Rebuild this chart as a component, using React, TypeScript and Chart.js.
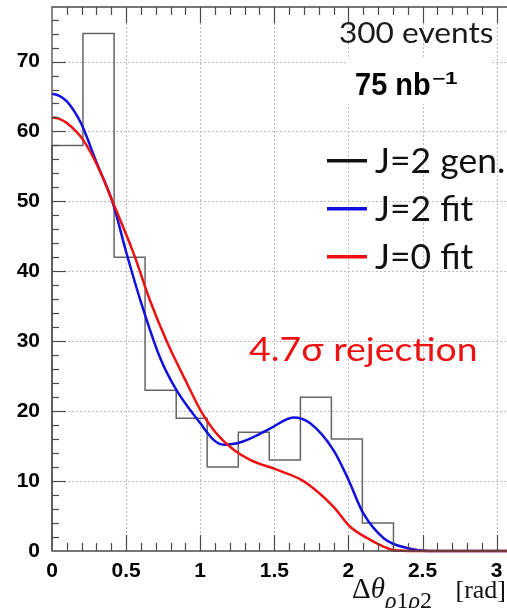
import { useEffect, useRef } from 'react';
import { Chart, registerables } from 'chart.js';
Chart.register(...registerables);

// Histogram: generated J=2 events per bin (bin edges in rad)
const binEdges = [0, 0.209, 0.419, 0.628, 0.838, 1.047, 1.257, 1.466, 1.676, 1.885, 2.094, 2.304, 2.513, 2.723, 2.932, 3.142];
const genCounts = [58, 74, 42, 23, 19, 12, 17, 13, 22, 16, 4, 0, 0, 0, 0];

// J=2 fit curve
const j2FitX = [0, 0.05, 0.1, 0.15, 0.2, 0.3, 0.41, 0.5, 0.6, 0.73, 0.84, 1.0, 1.09, 1.16, 1.25, 1.34, 1.47, 1.63, 1.74, 1.9, 2.0, 2.1, 2.24, 2.4, 2.55, 3.07];
const j2FitY = [65.4, 65.1, 64.3, 62.9, 61.0, 55.6, 49.8, 42.8, 35.6, 27.6, 23.0, 18.3, 15.9, 15.2, 15.4, 16.1, 17.5, 19.1, 18.3, 14.4, 10.2, 5.4, 1.8, 0.4, 0, 0];

// J=0 fit curve
const j0FitX = [0, 0.05, 0.1, 0.21, 0.32, 0.41, 0.55, 0.66, 0.78, 0.91, 1.0, 1.11, 1.23, 1.34, 1.52, 1.68, 1.79, 1.9, 2.01, 2.13, 2.24, 2.31, 2.45, 3.07];
const j0FitY = [62.0, 61.8, 61.2, 58.8, 54.5, 49.9, 42.6, 35.9, 29.7, 24.0, 20.2, 16.8, 14.4, 13.0, 11.6, 10.2, 8.5, 6.3, 3.5, 1.8, 0.6, 0.1, 0, 0];

const xTickValues = [0, 0.5, 1, 1.5, 2, 2.5, 3];
const xTickLabels = ['0', '0.5', '1', '1.5', '2', '2.5', '3'];
const yTickValues = [0, 10, 20, 30, 40, 50, 60, 70];
const yTickLabels = ['0', '10', '20', '30', '40', '50', '60', '70'];

const legendLabels = ['J=2 gen.', 'J=2 fit', 'J=0 fit'];
const legendColors = ['#111111', '#1010e0', '#ee1111'];

const X_MAX = 3.07;
const Y_MAX = 77.8;

function drawFit(
  ctx: CanvasRenderingContext2D,
  text: string,
  weight: string,
  family: string,
  left: number,
  baseline: number,
  cap: number,
  width: number | null,
  color: string,
  scaleOverride?: number
) {
  ctx.save();
  ctx.font = `${weight} 100px ${family}`;
  const capRatio = ctx.measureText('H').actualBoundingBoxAscent / 100;
  const size = cap / capRatio;
  ctx.font = `${weight} ${size}px ${family}`;
  const m = ctx.measureText(text);
  const inkW = m.actualBoundingBoxLeft + m.actualBoundingBoxRight;
  const sx = scaleOverride ?? (width ? width / inkW : 1);
  ctx.translate(left, baseline);
  ctx.scale(sx, 1);
  ctx.fillStyle = color;
  ctx.textAlign = 'left';
  ctx.textBaseline = 'alphabetic';
  ctx.fillText(text, m.actualBoundingBoxLeft, 0);
  ctx.restore();
  return sx;
}

const decorPlugin = {
  id: 'decor',
  beforeDatasetsDraw(chart: any) {
    const { ctx, chartArea: a, scales } = chart;
    const x = scales.x;
    const y = scales.y;
    ctx.save();
    ctx.strokeStyle = '#bdbdbd';
    ctx.lineWidth = 1;
    ctx.setLineDash([2, 2]);
    for (const v of xTickValues) {
      if (v === 0) continue;
      const px = Math.round(x.getPixelForValue(v)) + 0.5;
      ctx.beginPath();
      ctx.moveTo(px, a.top);
      ctx.lineTo(px, a.bottom);
      ctx.stroke();
    }
    for (const v of yTickValues) {
      if (v === 0) continue;
      const py = Math.round(y.getPixelForValue(v)) + 0.5;
      ctx.beginPath();
      ctx.moveTo(a.left, py);
      ctx.lineTo(a.right, py);
      ctx.stroke();
    }
    ctx.restore();
  },
  afterDatasetsDraw(chart: any) {
    const { ctx, chartArea: a, scales } = chart;
    const x = scales.x;
    const y = scales.y;
    ctx.save();
    // frame
    ctx.strokeStyle = '#4a4a4a';
    ctx.lineWidth = 1.3;
    ctx.beginPath();
    ctx.moveTo(a.right + 2, a.top);
    ctx.lineTo(a.left, a.top);
    ctx.lineTo(a.left, a.bottom);
    ctx.lineTo(a.right + 2, a.bottom);
    ctx.stroke();
    // x ticks (bottom & top)
    ctx.lineWidth = 1.2;
    for (let i = 1; i <= 30; i++) {
      const v = i / 10;
      const px = Math.round(x.getPixelForValue(v)) + 0.5;
      const major = i % 5 === 0;
      const len = major ? 16 : 8;
      ctx.beginPath();
      ctx.moveTo(px, a.bottom);
      ctx.lineTo(px, a.bottom - len);
      ctx.moveTo(px, a.top);
      ctx.lineTo(px, a.top + len);
      ctx.stroke();
    }
    // y ticks (left)
    for (let i = 1; i <= 38; i++) {
      const v = i * 2;
      if (v > Y_MAX) break;
      const py = Math.round(y.getPixelForValue(v)) + 0.5;
      const major = v % 10 === 0;
      const len = major ? 14 : 7;
      ctx.beginPath();
      ctx.moveTo(a.left, py);
      ctx.lineTo(a.left + len, py);
      ctx.stroke();
    }
    ctx.restore();

    // "300 events"
    drawFit(ctx, '300 events', 'normal', 'Lato', 340, 42.5, 21, 153, '#1a1a1a');

    // white box with luminosity
    ctx.save();
    ctx.fillStyle = '#ffffff';
    ctx.fillRect(346, 58, 146, 46);
    ctx.restore();
    drawFit(ctx, '75 nb', 'bold', '"Liberation Sans"', 356, 95, 22.5, 74, '#000000');
    drawFit(ctx, '\u22121', 'bold', '"Liberation Sans"', 432, 84, 11, 26, '#000000');

    // legend
    const rowY = [160.7, 208.8, 256.7];
    ctx.save();
    rowY.forEach((ly, i) => {
      ctx.strokeStyle = legendColors[i];
      ctx.lineWidth = 3.5;
      ctx.beginPath();
      ctx.moveTo(327, ly);
      ctx.lineTo(367, ly);
      ctx.stroke();
    });
    ctx.restore();
    const sx = drawFit(ctx, legendLabels[1], 'normal', 'Lato', 375, rowY[1] + 12.5, 25, 98, '#111111');
    drawFit(ctx, legendLabels[0], 'normal', 'Lato', 375, rowY[0] + 12.5, 25, null, '#111111', sx);
    drawFit(ctx, legendLabels[2], 'normal', 'Lato', 375, rowY[2] + 12.5, 25, null, '#111111', sx);

    // annotation
    drawFit(ctx, '4.7\u03c3 rejection', 'normal', 'Lato', 249, 361, 24, 227, '#ee1111');

    // x-axis title: Δθ_{ρ1ρ2} [rad]
    ctx.save();
    ctx.fillStyle = '#111111';
    ctx.textBaseline = 'alphabetic';
    ctx.textAlign = 'left';
    const base = 598;
    const big = 'normal 29px "Liberation Serif"';
    const bigI = 'italic 29px "Liberation Serif"';
    const sm = 'normal 24px "Liberation Serif"';
    const smI = 'italic 24px "Liberation Serif"';
    const head: [string, string, number][] = [
      ['\u0394', big, 0],
      ['\u03b8', bigI, 0],
      ['\u03c1', smI, 10],
      ['1', sm, 10],
      ['\u03c1', smI, 10],
      ['2', sm, 10],
    ];
    let cx = 352;
    for (const [t, f, dy] of head) {
      ctx.font = f;
      ctx.fillText(t, cx, base + dy);
      cx += ctx.measureText(t).width;
    }
    ctx.font = 'normal 26px "Liberation Serif"';
    ctx.textAlign = 'right';
    ctx.fillText('[rad]', 506, base);
    ctx.restore();
  },
};

export default function App() {
  const ref = useRef<HTMLCanvasElement>(null);
  useEffect(() => {
    const histData = [{ x: binEdges[0], y: 0 }].concat(
      binEdges.map((e, i) => ({ x: e, y: genCounts[Math.min(i, genCounts.length - 1)] }))
    );
    const j2Data = j2FitX.map((v, i) => ({ x: v, y: j2FitY[i] }));
    const j0Data = j0FitX.map((v, i) => ({ x: v, y: j0FitY[i] }));
    const tickFont = { family: '"Liberation Sans", Arial, sans-serif', weight: 700, size: 21 };
    const chart = new Chart(ref.current!, {
      type: 'scatter',
      data: {
        datasets: [
          {
            label: 'J=0 fit',
            data: j0Data,
            showLine: true,
            borderColor: '#ee1111',
            borderWidth: 2.5,
            pointRadius: 0,
            cubicInterpolationMode: 'monotone',
            clip: 6,
          },
          {
            label: 'J=2 fit',
            data: j2Data,
            showLine: true,
            borderColor: '#1010e0',
            borderWidth: 2.5,
            pointRadius: 0,
            cubicInterpolationMode: 'monotone',
            clip: 6,
          },
          {
            label: 'J=2 gen.',
            data: histData,
            showLine: true,
            stepped: 'before',
            borderColor: '#666666',
            borderWidth: 1.5,
            pointRadius: 0,
            clip: 6,
          },
        ],
      } as any,
      options: {
        animation: false,
        responsive: false,
        devicePixelRatio: 1,
        layout: { padding: { top: 7, left: 0, right: 0, bottom: 0 } },
        plugins: { legend: { display: false }, tooltip: { enabled: false } },
        scales: {
          x: {
            type: 'linear',
            min: 0,
            max: X_MAX,
            grid: { display: false },
            border: { display: false },
            ticks: {
              font: tickFont,
              color: '#000',
              padding: 0,
              autoSkip: false,
              maxRotation: 0,
              callback: (_v: any, i: number) => xTickLabels[i],
            },
            afterBuildTicks: (s: any) => {
              s.ticks = xTickValues.map((value) => ({ value }));
            },
            afterFit: (s: any) => {
              s.height = 57;
              s.paddingLeft = 0;
              s.paddingRight = 0;
            },
          },
          y: {
            type: 'linear',
            min: 0,
            max: Y_MAX,
            grid: { display: false },
            border: { display: false },
            ticks: {
              font: tickFont,
              color: '#000',
              padding: 4,
              autoSkip: false,
              callback: (_v: any, i: number) => yTickLabels[i],
            },
            afterBuildTicks: (s: any) => {
              s.ticks = yTickValues.map((value) => ({ value }));
            },
            afterFit: (s: any) => {
              s.width = 52;
              s.paddingTop = 0;
              s.paddingBottom = 0;
            },
          },
        },
      } as any,
      plugins: [decorPlugin],
    });
    return () => chart.destroy();
  }, []);
  return (
    <div style={{ position: 'fixed', left: 0, top: 0, width: 507, height: 608, background: '#fff', overflow: 'hidden' }}>
      <canvas ref={ref} width={507} height={608} style={{ display: 'block', width: 507, height: 608 }} />
    </div>
  );
}
